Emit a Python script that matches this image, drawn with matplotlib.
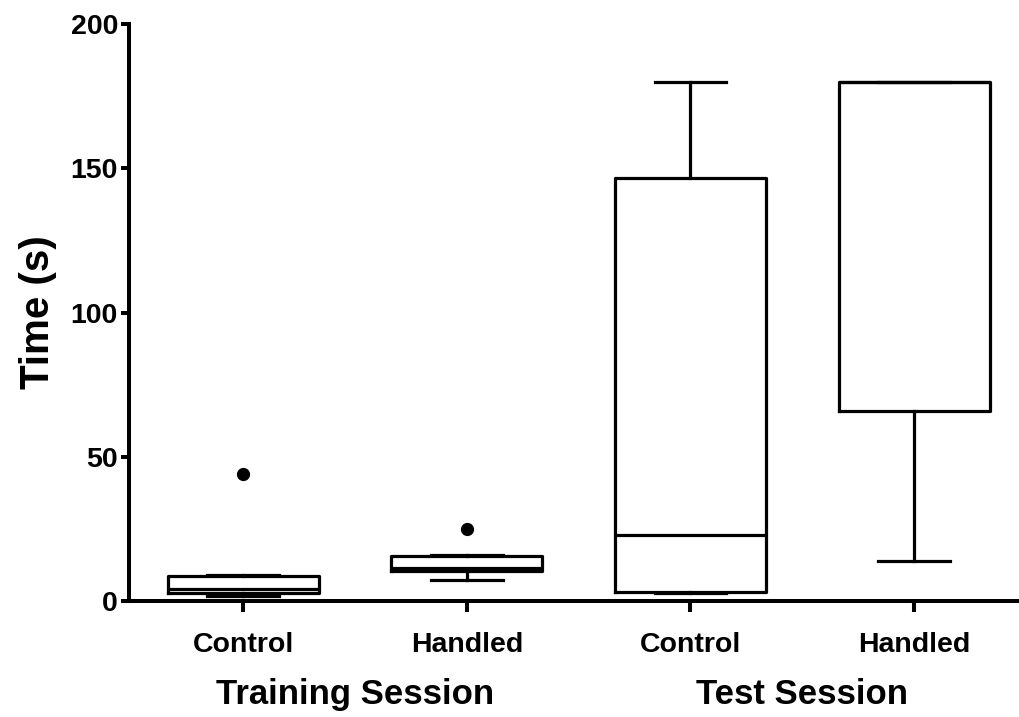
import matplotlib
matplotlib.use("Agg")
import matplotlib.pyplot as plt

plt.rcParams['font.family'] = ['Liberation Sans', 'DejaVu Sans']
plt.rcParams['font.weight'] = 'bold'

# ================= DATA =================

groups = ["Control", "Handled", "Control", "Handled"]
sessions = ["Training Session", "Test Session"]

whislo = [1.6, 7.2, 2.6, 14]
q1 = [2.6, 10.3, 3.1, 66]
med = [4.2, 11.5, 23, 180]
q3 = [8.6, 15.5, 146.5, 180]
whishi = [9.0, 16.0, 180, 180]
fliers = [[44], [25], [], []]

# ================= PLOT =================

fig = plt.figure(figsize=(10.19, 7.17), dpi=100)
ax = fig.add_axes([0.1266, 0.1618, 0.8715, 0.8047])

stats = []
for i in range(len(groups)):
    stats.append({
        "whislo": whislo[i], "q1": q1[i], "med": med[i],
        "q3": q3[i], "whishi": whishi[i], "fliers": fliers[i],
    })

lw = 2.3
ax.bxp(
    stats,
    positions=range(len(groups)),
    widths=0.675,
    capwidths=0.32,
    boxprops=dict(color="black", linewidth=lw),
    whiskerprops=dict(color="black", linewidth=lw),
    capprops=dict(color="black", linewidth=lw),
    medianprops=dict(color="black", linewidth=lw),
    flierprops=dict(marker="o", markerfacecolor="black",
                    markeredgecolor="black", markersize=8.5),
)

ax.set_xlim(-0.51, 3.46)
ax.set_ylim(0, 200)
ax.set_yticks([0, 50, 100, 150, 200])
ax.set_xticks(range(len(groups)))
ax.set_xticklabels(groups, fontsize=20.5, fontweight="bold")
for lab in ax.get_yticklabels():
    lab.set_fontsize(20.5)
    lab.set_fontweight("bold")

ax.spines["top"].set_visible(False)
ax.spines["right"].set_visible(False)
ax.spines["left"].set_linewidth(2.9)
ax.spines["bottom"].set_linewidth(2.9)
ax.tick_params(axis="y", width=2.9, length=6, pad=2)
ax.tick_params(axis="x", width=2.9, length=8, pad=14)

ax.set_ylabel("Time (s)", fontsize=29, fontweight="bold", labelpad=10)

for j, s in enumerate(sessions):
    ax.text(0.5 + 2 * j, -32.5, s, ha="center", va="center",
            fontsize=25, fontweight="bold", clip_on=False)

fig.savefig("out.png", dpi=100)
